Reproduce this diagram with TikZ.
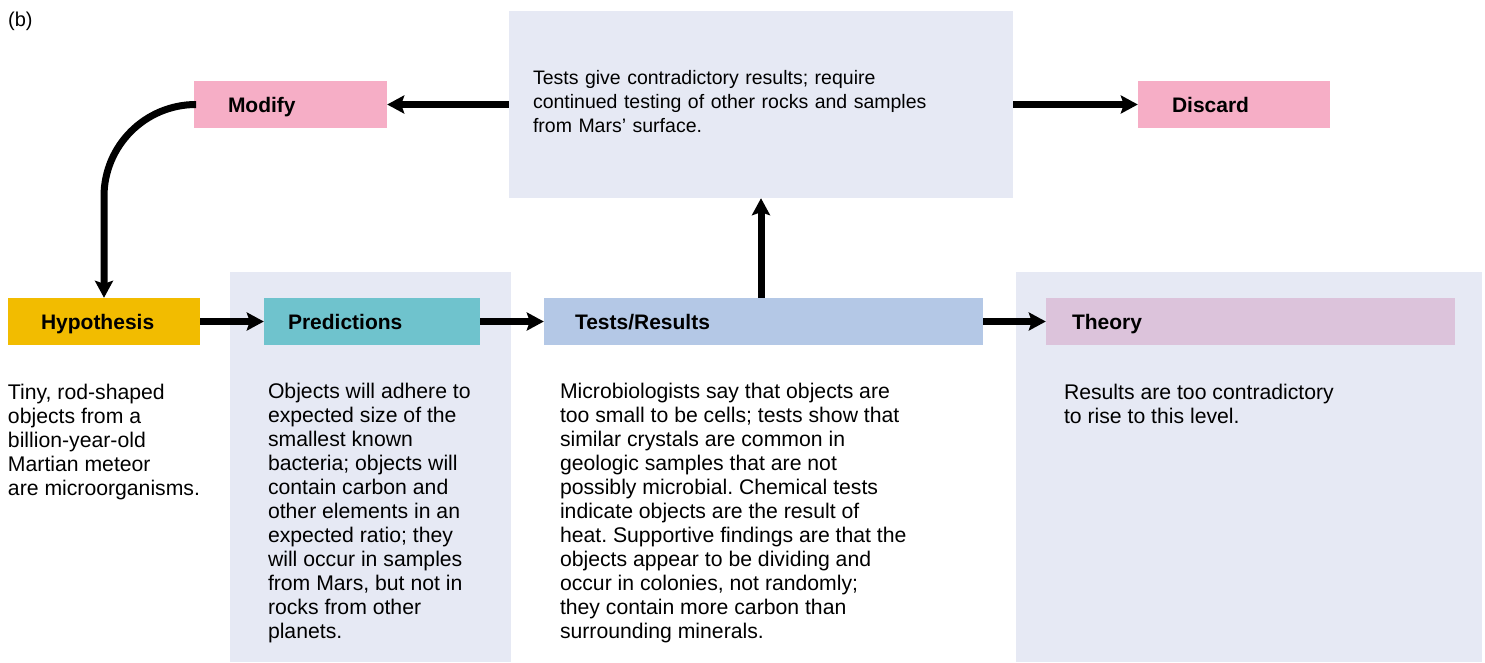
\documentclass[tikz,border=0pt]{standalone}
\usepackage{fontspec}
\setmainfont{Liberation Sans}
\frenchspacing
\usetikzlibrary{arrows.meta,calc,positioning}
\definecolor{panelbg}{HTML}{E6E9F4}
\definecolor{pinkbox}{HTML}{F6AEC6}
\definecolor{hypobox}{HTML}{F2BC00}
\definecolor{predbox}{HTML}{6FC3CD}
\definecolor{testbox}{HTML}{B4C8E6}
\definecolor{theobox}{HTML}{DCC3DB}
\tikzset{
        block/.style = {rectangle, align=left,
            minimum height=47pt, inner ysep=0pt,
            text height=20pt, text depth=4.4pt,
            font=\fontsize{21}{24}\selectfont\bfseries},
        panel/.style = {rectangle, fill=panelbg, inner sep=0pt,
            anchor=north west},
        body/.style = {align=left, inner sep=0pt, anchor=base west,
            font=\fontsize{21.2}{24}\selectfont},
        arrow/.style = {draw, line width=7pt,
            -{Stealth[length=17pt,width=18pt,inset=3pt]}},
    }

\begin{document}
\begin{tikzpicture}[x=1pt,y=-1pt]
    \useasboundingbox (0,0) rectangle (1485,662);

    % shaded panels behind the lower columns
    \node[panel, minimum width=281pt, minimum height=390pt] (predpanel) at (230,272) {};
    \node[panel, minimum width=466pt, minimum height=390pt] (theopanel) at (1016,272) {};

    \node[body, font=\fontsize{20}{22}\selectfont] (tag) at (8,26) {(b)};

    % top row
    \node[panel, anchor=center, minimum width=504pt, minimum height=187pt,
          text width=456pt, align=left, text depth=54pt,
          font=\fontsize{19.5}{24}\selectfont]
          (top) at (761,104.5) {Tests give contradictory results; require\\continued testing of other rocks and samples\\from Mars' surface.};
    \node[block, fill=pinkbox, text width=125pt, inner xsep=34pt] (mod) at (290.5,104.5) {Modify};
    \node[block, fill=pinkbox, text width=124pt, inner xsep=34pt] (dis) at (1234,104.5) {Discard};

    % main row
    \node[block, fill=hypobox, text width=126pt, inner xsep=33pt] (hyp) at (104,321.5) {Hypothesis};
    \node[block, fill=predbox, text width=168pt, inner xsep=24pt] (pred) at (372,321.5) {Predictions};
    \node[block, fill=testbox, text width=377pt, inner xsep=31pt] (tests) at (763.5,321.5) {Tests/Results};
    \node[block, fill=theobox, text width=357pt, inner xsep=26pt] (theo) at (1250.5,321.5) {Theory};

    % texts under the boxes (anchored at the last baseline)
    \node[body] (hyptext) at ($(hyp.south west) + (0,150)$)
        {Tiny, rod-shaped\\objects from a\\billion-year-old\\Martian meteor\\are microorganisms.};
    \node[body] (predtext) at ($(pred.south west) + (4,293)$)
        {Objects will adhere to\\expected size of the\\smallest known\\bacteria; objects will\\contain carbon and\\other elements in an\\expected ratio; they\\will occur in samples\\from Mars, but not in\\rocks from other\\planets.};
    \node[body] (teststext) at ($(tests.south west) + (16,293)$)
        {Microbiologists say that objects are\\too small to be cells; tests show that\\similar crystals are common in\\geologic samples that are not\\possibly microbial. Chemical tests\\indicate objects are the result of\\heat. Supportive findings are that the\\objects appear to be dividing and\\occur in colonies, not randomly;\\they contain more carbon than\\surrounding minerals.};
    \node[body] (theotext) at ($(theo.south west) + (18,78)$)
        {Results are too contradictory\\to rise to this level.};

    % connectors
    \draw[arrow] (hyp.east) -- (pred.west);
    \draw[arrow] (pred.east) -- (tests.west);
    \draw[arrow] (tests.east) -- (theo.west);
    \draw[arrow] (tests.north -| top.south) -- (top.south);
    \draw[arrow] (top.west) -- (mod.east);
    \draw[arrow] (top.east) -- (dis.west);
    \draw[arrow, rounded corners=92pt] (mod.west) -| (hyp.north);
\end{tikzpicture}
\end{document}
